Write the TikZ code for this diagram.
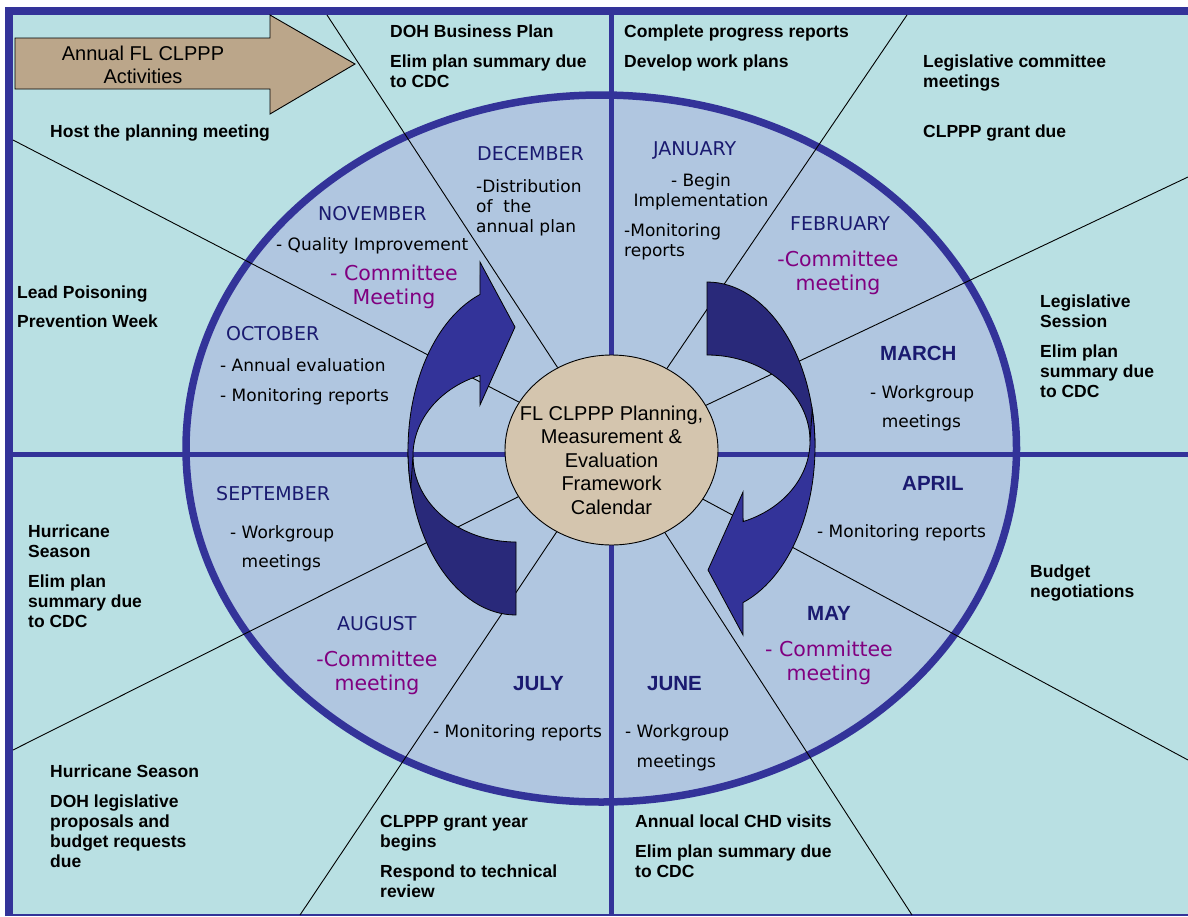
\documentclass[tikz,border=0pt]{standalone}
\usepackage{fontspec}
\setmainfont{Liberation Sans}
\newfontfamily\dejavu{DejaVu Sans}
\usetikzlibrary{shapes.geometric}

\definecolor{frameblue}{HTML}{333399}
\definecolor{sea}{HTML}{B9E0E3}
\definecolor{wheel}{HTML}{B0C6E0}
\definecolor{hubtan}{HTML}{D4C5AE}
\definecolor{banner}{HTML}{BBA68A}
\definecolor{navy}{HTML}{1A1A70}
\definecolor{plum}{HTML}{800080}
\definecolor{darkribbon}{HTML}{29297A}

% multi-line nodes sit on the baseline of their last line
\tikzset{
  duty/.style={anchor=base west, align=left, inner sep=0pt, font=\fontsize{17.5}{20}\selectfont\bfseries},
  monthname/.style={anchor=base west, inner sep=0pt, text=navy, font=\dejavu\fontsize{19}{22}\selectfont},
  monthbold/.style={anchor=base west, inner sep=0pt, text=navy, font=\fontsize{20.5}{24}\selectfont\bfseries},
  jobnote/.style={anchor=base west, align=left, inner sep=0pt, font=\dejavu\fontsize{17}{20}\selectfont},
  meet/.style={anchor=base, align=center, inner sep=0pt, text=plum, font=\dejavu\fontsize{20.5}{23.5}\selectfont},
  spoke/.style={black, line width=0.9pt},
}

\begin{document}
\begin{tikzpicture}[x=1pt,y=-1pt]
\useasboundingbox (0,0) rectangle (1188,916);
\fill[white] (0,0) rectangle (1188,916);
\fill[sea] (13,15) rectangle (1188,914);
% the year wheel
\fill[wheel] (601.25,448.5) ellipse[x radius=415.25, y radius=353.5];
\draw[frameblue, line width=4.5pt] (611.5,15) -- (611.5,914) (13,454.5) -- (1188,454.5);
\draw[frameblue, line width=7.5pt] (601.25,448.5) ellipse[x radius=415.25, y radius=353.5];
\draw[frameblue, line width=8pt] (9,916) -- (9,11) -- (1188,11);
\draw[frameblue, line width=2pt] (13,915) -- (1188,915);

% ends of the spokes on the frame
\coordinate (r1) at (327,15);
\coordinate (r2) at (13,140);
\coordinate (r3) at (907,15);
\coordinate (r4) at (1188,177);
\coordinate (r5) at (1188,760);
\coordinate (r6) at (912,915);
\coordinate (r7) at (300,915);
\coordinate (r8) at (13,750);

\node[draw=black, line width=0.9pt, fill=hubtan, ellipse, minimum width=213pt, minimum height=190pt, inner sep=0pt] (hub) at (611.5,450) {};
\foreach \i in {1,...,8}
  \draw[spoke] (hub) -- (r\i);

% two twisted turn arrows
\foreach \turn in {0,180}{
\begin{scope}[rotate around={\turn:(611.5,448.5)}]
\filldraw[fill=darkribbon, line width=0.8pt] (516,615) -- (516,542)
  arc[start angle=90, end angle=180, x radius=103, y radius=86] -- (408,450)
  arc[start angle=180, end angle=90, x radius=108, y radius=165] -- cycle;
\filldraw[fill=frameblue, line width=0.8pt] (410.8,487.1)
  arc[start angle=167, end angle=250.5, x radius=108, y radius=165]
  -- (480,262) -- (515,327) -- (480,405) -- (479.9,375.4)
  arc[start angle=249.5, end angle=180, x radius=103, y radius=86] -- cycle;
\end{scope}
}

\node[font=\fontsize{20}{23.5}\selectfont, align=center] (hubtext) at (611.5,460) {FL CLPPP Planning,\\Measurement \&\\Evaluation\\Framework\\Calendar};

% banner arrow
\filldraw[fill=banner, draw=black, line width=0.9pt] (15,38) -- (270,38) -- (270,15) -- (355,64) -- (270,114) -- (270,89) -- (15,89) -- cycle;
\node[font=\fontsize{20}{23}\selectfont, align=center] (title) at (143,64.5) {Annual FL CLPPP\\Activities};

% activities round the year
\node[duty] (decjob) at (390,87) {DOH Business Plan\\[10pt]Elim plan summary due\\to CDC};
\node[duty] (janjob) at (624,67) {Complete progress reports\\[10pt]Develop work plans};
\node[duty] (febjob) at (923,137) {Legislative committee\\meetings\\[30pt]CLPPP grant due};
\node[duty] (novjob) at (50,137) {Host the planning meeting};
\node[duty] (octjob) at (17,327) {Lead Poisoning\\[9pt]Prevention Week};
\node[duty] (marjob) at (1040,397) {Legislative\\Session\\[10pt]Elim plan\\summary due\\to CDC};
\node[duty] (aprjob) at (1030,597) {Budget\\negotiations};
\node[duty] (sepjob) at (28,627) {Hurricane\\Season\\[10pt]Elim plan\\summary due\\to CDC};
\node[duty] (augjob) at (50,867) {Hurricane Season\\[10pt]DOH legislative\\proposals and\\budget requests\\due};
\node[duty] (juljob) at (380,897) {CLPPP grant year\\begins\\[10pt]Respond to technical\\review};
\node[duty] (junjob) at (635,877) {Annual local CHD visits\\[10pt]Elim plan summary due\\to CDC};

% months
\node[monthname] (dec) at (477,160) {DECEMBER};
\node[monthname] (jan) at (653,155) {JANUARY};
\node[monthname] (feb) at (790,230) {FEBRUARY};
\node[monthname] (nov) at (318,220) {NOVEMBER};
\node[monthname] (oct) at (226,340) {OCTOBER};
\node[monthname] (sep) at (216,500) {SEPTEMBER};
\node[monthname] (aug) at (337,630) {AUGUST};
\node[monthbold] (jul) at (513,690) {JULY};
\node[monthbold] (jun) at (647,690) {JUNE};
\node[monthbold] (may) at (807,620) {MAY};
\node[monthbold] (apr) at (902,490) {APRIL};
\node[monthbold] (mar) at (880,360) {MARCH};

\node[jobnote] (decnote) at (476,232) {-Distribution\\of\ \ the\\annual plan};
\node[jobnote, anchor=base, align=center] (jannote) at (701,206) {- Begin\\Implementation};
\node[jobnote] (janrep) at (624,256) {-Monitoring\\reports};
\node[jobnote] (novnote) at (276,250) {- Quality Improvement};
\node[jobnote] (octnote) at (220,401) {- Annual evaluation\\[10pt]- Monitoring reports};
\node[jobnote] (sepnote) at (230,567) {- Workgroup\\[9pt]\hphantom{- }meetings};
\node[jobnote] (julnote) at (433,737) {- Monitoring reports};
\node[jobnote] (junnote) at (625,767) {- Workgroup\\[10pt]\hphantom{- }meetings};
\node[jobnote] (aprnote) at (817,537) {- Monitoring reports};
\node[jobnote] (marnote) at (870,427) {- Workgroup\\[9pt]\hphantom{- }meetings};

\node[meet] (novmeet) at (394,304) {- Committee\\Meeting};
\node[meet] (febmeet) at (838,290) {-Committee\\meeting};
\node[meet] (augmeet) at (377,690) {-Committee\\meeting};
\node[meet] (maymeet) at (829,680) {- Committee\\meeting};
\end{tikzpicture}
\end{document}
